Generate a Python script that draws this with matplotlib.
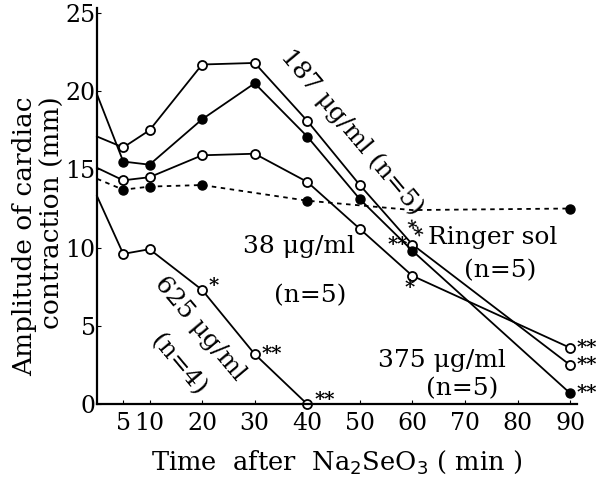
import numpy as np
import matplotlib.pyplot as plt

plt.rcParams['font.family'] = ['DejaVu Serif']

# time points (min)
t_full = [0, 5, 10, 20, 30, 40, 50, 60, 90]
t_625 = [0, 5, 10, 20, 30, 40]
t_ringer = [0, 5, 10, 20, 40, 60, 90]

# amplitude of cardiac contraction (mm)
amp_187 = [17.1, 16.4, 17.5, 21.7, 21.8, 18.1, 14.0, 10.2, 2.5]
amp_375 = [19.8, 15.5, 15.3, 18.2, 20.5, 17.1, 13.1, 9.8, 0.7]
amp_38 = [15.1, 14.3, 14.5, 15.9, 16.0, 14.2, 11.2, 8.2, 3.6]
amp_625 = [13.3, 9.6, 9.9, 7.3, 3.2, 0.0]
amp_ringer = [14.4, 13.7, 13.9, 14.0, 13.0, 12.4, 12.5]

fig = plt.figure(figsize=(6.06, 4.8), dpi=100)
ax = fig.add_axes([0.160, 0.158, 0.792, 0.825])

lw = 1.3
ms = 6.5
open_kw = dict(color='black', lw=lw, ms=ms, mfc='white', mec='black', mew=1.3,
               marker='o', markevery=slice(1, None), clip_on=False)
fill_kw = dict(color='black', lw=lw, ms=ms, mfc='black', mec='black',
               marker='o', clip_on=False)
ax.plot(t_full, amp_187, **open_kw)
ax.plot(t_full, amp_375, markevery=slice(1, None), **fill_kw)
ax.plot(t_full, amp_38, **open_kw)
ax.plot(t_625, amp_625, **open_kw)
ax.plot(t_ringer, amp_ringer, linestyle=(0, (2.5, 2.5)), markevery=[1, 2, 3, 4, 6], **fill_kw)

ax.set_xlim(0, 91.3)
ax.set_ylim(0, 25.3)
ax.spines['top'].set_visible(False)
ax.spines['right'].set_visible(False)
ax.spines['left'].set_linewidth(1.6)
ax.spines['bottom'].set_linewidth(1.6)

ax.set_xticks([5, 10, 20, 30, 40, 50, 60, 70, 80, 90])
ax.set_yticks([0, 5, 10, 15, 20, 25])
ax.tick_params(direction='in', length=3, labelsize=17)
ax.tick_params(axis='x', pad=6)
ax.tick_params(axis='y', pad=1)

ax.set_xlabel('Time  after  Na$_2$SeO$_3$ ( min )', fontsize=18.5, labelpad=9)
fig.text(0.040, 0.80, 'Amplitude of cardiac', rotation=90, ha='center', va='top', fontsize=19)
fig.text(0.086, 0.80, 'contraction (mm)', rotation=90, ha='center', va='top', fontsize=19)

fs = 18
ax.text(48.5, 17.4, '187 μg/ml (n=5)', rotation=-50, ha='center', va='center', fontsize=fs,
        rotation_mode='anchor')
ax.text(63.0, 10.65, 'Ringer sol', ha='left', va='center', fontsize=fs)
ax.text(76.8, 8.55, '(n=5)', ha='center', va='center', fontsize=fs)
ax.text(38.5, 10.1, '38 μg/ml', ha='center', va='center', fontsize=fs)
ax.text(40.5, 6.95, '(n=5)', ha='center', va='center', fontsize=fs)
ax.text(19.5, 4.8, '625 μg/ml', rotation=-50, ha='center', va='center', fontsize=fs,
        rotation_mode='anchor')
ax.text(15.4, 2.5, '(n=4)', rotation=-50, ha='center', va='center', fontsize=fs,
        rotation_mode='anchor')
ax.text(65.6, 2.8, '375 μg/ml', ha='center', va='center', fontsize=fs)
ax.text(69.4, 1.0, '(n=5)', ha='center', va='center', fontsize=fs)

# significance marks
sfs = 14
def star(x, y, s, dx, dy, ha='left', rot=0):
    ax.annotate(s, (x, y), xytext=(dx, dy), textcoords='offset points', rotation=rot,
                ha=ha, va='center', fontsize=sfs, fontweight='bold', annotation_clip=False)

star(t_625[3], amp_625[3], '*', 5, 3)
star(t_625[4], amp_625[4], '**', 5, 0)
star(t_625[5], amp_625[5], '**', 5, 3)
star(t_full[7], amp_187[7], '**', -1, 10, ha='center', rot=-50)
star(t_full[7], amp_375[7], '**', -3, 4, ha='right')
star(t_full[7], amp_38[7], '*', -2, -9, ha='center')
star(t_full[8], amp_187[8], '**', 5, 0)
star(t_full[8], amp_375[8], '**', 5, 0)
star(t_full[8], amp_38[8], '**', 5, 0)

fig.savefig('out.png', dpi=100)
